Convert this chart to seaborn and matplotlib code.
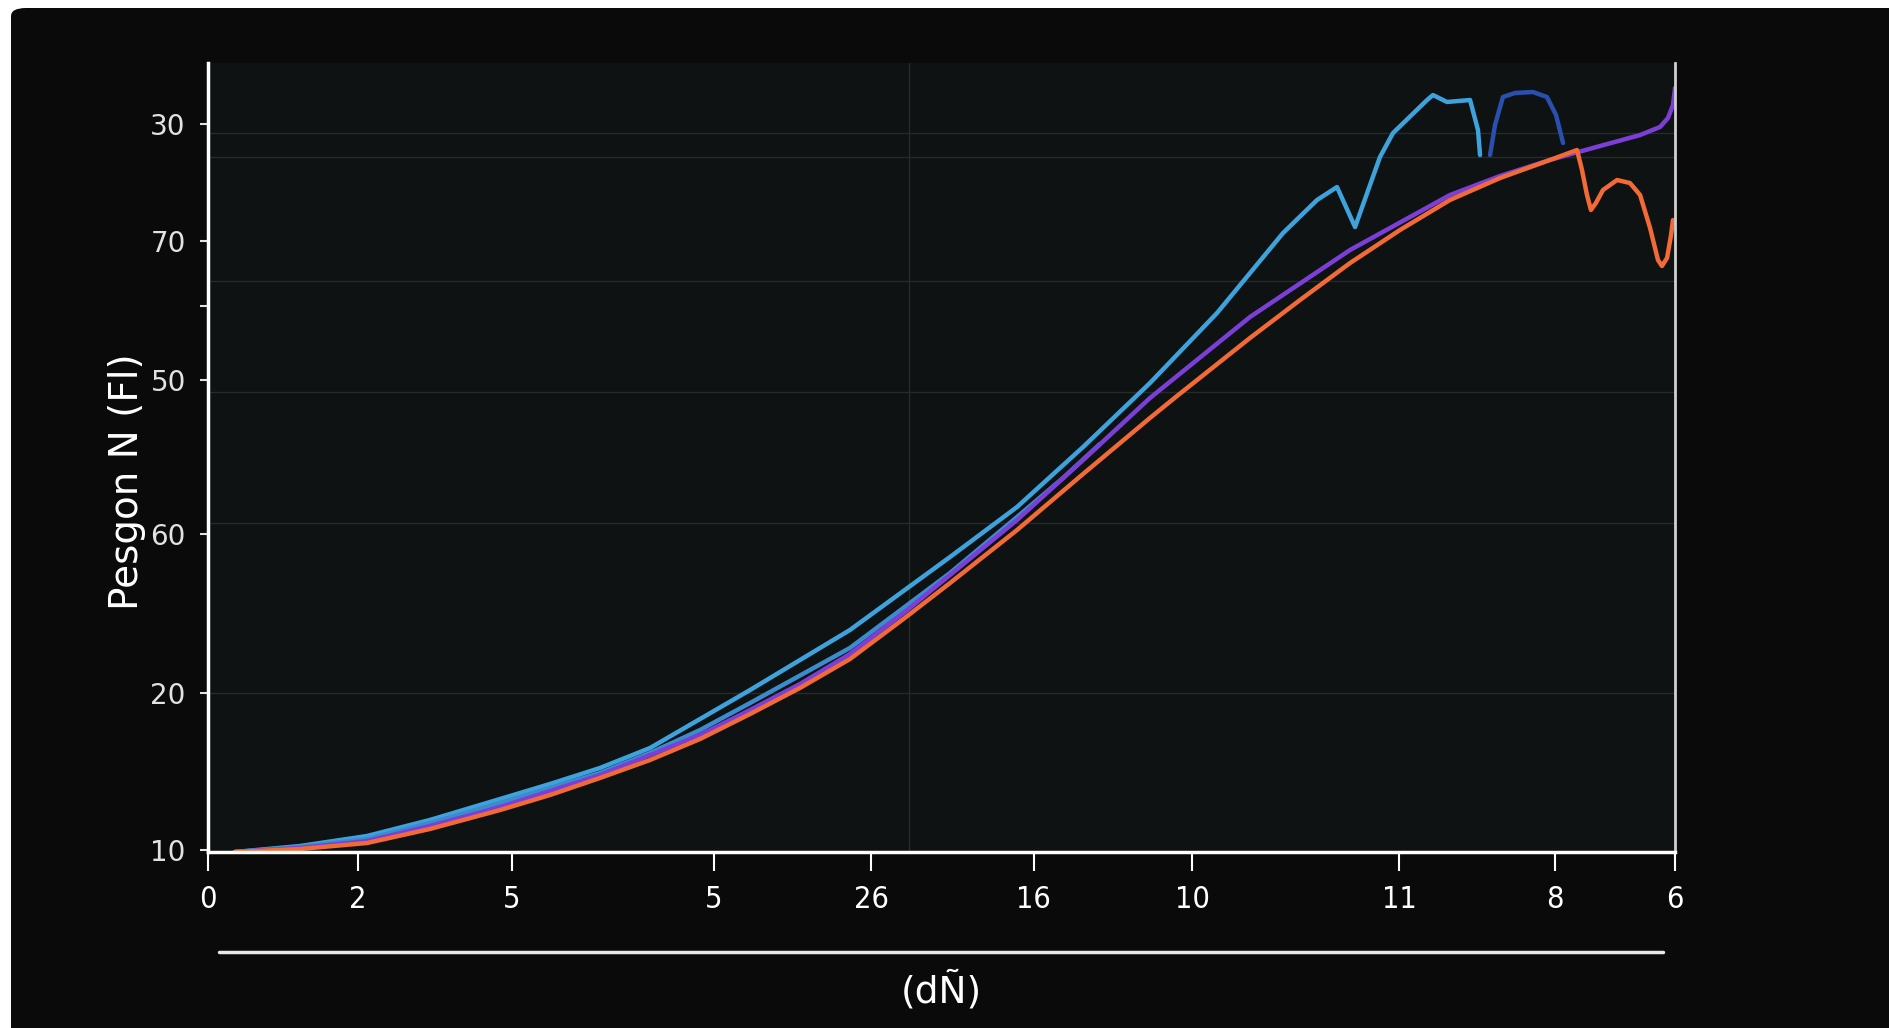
import pandas as pd
import matplotlib.pyplot as plt
import seaborn as sns
from matplotlib.lines import Line2D
from matplotlib.patches import FancyBboxPatch

# Axis ticks as printed on the chart (positions on a 0-100 scale)
x_tick_pos = [0, 10.2, 20.7, 34.5, 45.2, 56.3, 67.1, 81.2, 91.8, 100]
x_tick_labels = ["0", "2", "5", "5", "26", "16", "10", "11", "8", "6"]
y_tick_pos = [0.25, 20.2, 40.3, 59.8, 77.4, 92.3]
y_tick_labels = ["10", "20", "60", "50", "70", "30"]
y_minor_pos = [69.2]
grid_y = [20.2, 41.7, 58.3, 72.4, 88.1, 91.1]
grid_x = [47.8]

# Series
upper_x = [1.84, 6.27, 10.84, 15.13, 19.91, 23.31, 26.72, 30.13, 36.95, 43.76, 50.58,
           55.15, 59.65, 64.21, 68.78, 73.28, 75.60, 76.96, 78.19, 79.89, 80.78, 83.10,
           83.50, 84.46, 86.03, 86.57, 86.71]
upper_y = [0, 0.76, 2.03, 4.06, 6.72, 8.62, 10.65, 13.18, 20.53, 28.14, 37.39,
           43.73, 51.33, 59.44, 68.31, 78.45, 82.64, 84.28, 79.21, 88.09, 91.13, 95.31,
           95.94, 95.06, 95.31, 91.51, 88.34]

middle_x = [1.84, 6.27, 10.84, 15.13, 19.91, 26.72, 30.13, 33.54, 36.95, 43.76, 50.58,
            55.15, 58.28, 60.80]
middle_y = [0, 0.63, 1.65, 3.68, 6.21, 10.01, 12.55, 15.46, 18.88, 25.86, 35.36,
            42.46, 47.40, 51.71]

purple_x = [1.84, 6.27, 10.84, 15.13, 19.91, 26.72, 33.54, 36.95, 40.35, 43.76, 47.58,
            50.58, 55.15, 59.65, 64.21, 71.03, 77.85, 84.66, 88.07, 91.48, 94.89, 97.62,
            98.98, 99.52, 99.86, 100.0]
purple_y = [0, 0.51, 1.39, 3.30, 5.70, 9.76, 14.83, 18.00, 21.29, 25.10, 30.54,
            35.11, 42.08, 49.68, 57.54, 67.81, 76.30, 83.27, 85.68, 87.71, 89.48, 90.87,
            91.89, 93.03, 94.68, 96.83]

orange_x = [1.84, 6.27, 10.84, 15.13, 19.91, 23.31, 26.72, 30.13, 33.54, 36.95, 40.35,
            43.76, 47.58, 50.58, 55.15, 59.65, 64.21, 66.05, 71.03, 74.44, 77.85, 81.25,
            84.66, 88.07, 91.48, 93.32, 93.66, 94.00, 94.27, 94.61, 95.09, 96.05, 96.93,
            97.62, 98.30, 98.84, 99.11, 99.46, 99.73, 99.86]
orange_y = [0, 0.38, 1.14, 2.92, 5.32, 7.22, 9.38, 11.66, 14.32, 17.49, 20.79,
            24.46, 29.78, 34.09, 40.81, 47.91, 55.01, 57.79, 65.15, 69.96, 74.65, 78.83,
            82.64, 85.42, 87.71, 88.97, 86.44, 83.27, 81.37, 82.26, 83.90, 85.17, 84.79,
            83.27, 79.09, 75.03, 74.27, 75.29, 78.20, 80.10]

dark_x = [87.39, 87.73, 88.27, 89.09, 90.32, 91.27, 91.89, 92.37]
dark_y = [88.34, 92.14, 95.69, 96.20, 96.32, 95.69, 93.41, 89.86]

series_order = ["upper", "middle", "purple", "orange", "dark"]
palette = {"upper": "#3ea2dc", "middle": "#3a8ccc", "purple": "#7b3fd8",
           "orange": "#f26a35", "dark": "#2a4fae"}

frames = []
for name, xs, ys in [("upper", upper_x, upper_y), ("middle", middle_x, middle_y),
                     ("purple", purple_x, purple_y), ("orange", orange_x, orange_y),
                     ("dark", dark_x, dark_y)]:
    frames.append(pd.DataFrame({"x": xs, "y": ys, "series": name}))
df = pd.concat(frames, ignore_index=True)

sns.set_theme(style="dark")
plt.rcParams['font.family'] = ['DejaVu Sans']

fig = plt.figure(figsize=(18.9, 10.28), dpi=100)
fig.patch.set_facecolor("white")
# dark rounded panel behind everything
fig.add_artist(FancyBboxPatch((11 / 1890, -0.05), 1.05, 1 - 8 / 1028 + 0.05,
                              boxstyle="round,pad=0,rounding_size=0.008",
                              transform=fig.transFigure, facecolor="#0a0a0a",
                              edgecolor="none", zorder=-10))

ax = fig.add_axes([208 / 1890, 1 - 852 / 1028, (1675 - 208) / 1890, (852 - 63) / 1028])
ax.set_facecolor("#0f1212")

for gy in grid_y:
    ax.axhline(gy, color="#252a2b", lw=1, zorder=0)
for gx in grid_x:
    ax.axvline(gx, color="#252a2b", lw=1, zorder=0)

sns.lineplot(data=df, x="x", y="y", hue="series", hue_order=series_order,
             palette=palette, estimator=None, errorbar=None, legend=False,
             lw=3.2, ax=ax)
for line in ax.lines:
    line.set_solid_joinstyle("round")
    line.set_solid_capstyle("round")

ax.set_xlim(0, 100)
ax.set_ylim(0, 100)
ax.set_xticks(x_tick_pos)
ax.set_xticklabels(x_tick_labels, fontstretch="condensed")
ax.set_yticks(y_tick_pos)
ax.set_yticklabels(y_tick_labels)
ax.set_yticks(y_minor_pos, minor=True)
ax.set_xlabel("")
ax.set_ylabel("")
ax.grid(False)

ax.tick_params(axis="x", length=14, width=1.5, colors="white", labelsize=22, pad=10,
               bottom=True)
ax.tick_params(axis="y", which="both", length=6, width=1.5, colors="#e2e2e2",
               labelsize=20, pad=10, left=True)

ax.spines["top"].set_visible(False)
for side in ["left", "bottom"]:
    ax.spines[side].set_color("white")
    ax.spines[side].set_linewidth(2.5)
ax.spines["right"].set_color("#d0d0d0")
ax.spines["right"].set_linewidth(2)

# second rule under the tick labels
fig.add_artist(Line2D([219 / 1890, 1663 / 1890], [1 - 952 / 1028] * 2,
                      transform=fig.transFigure, color="#e8e8e8", lw=2.5))

fig.text(941 / 1890, 1 - 991 / 1028, "(dÑ)", color="white", fontsize=27,
         ha="center", va="center")
fig.text(127 / 1890, 1 - 482 / 1028, "Pesgon N (Fl)", color="white", fontsize=28,
         rotation=90, ha="center", va="center")

fig.savefig("out.png", dpi=100, facecolor=fig.get_facecolor())
